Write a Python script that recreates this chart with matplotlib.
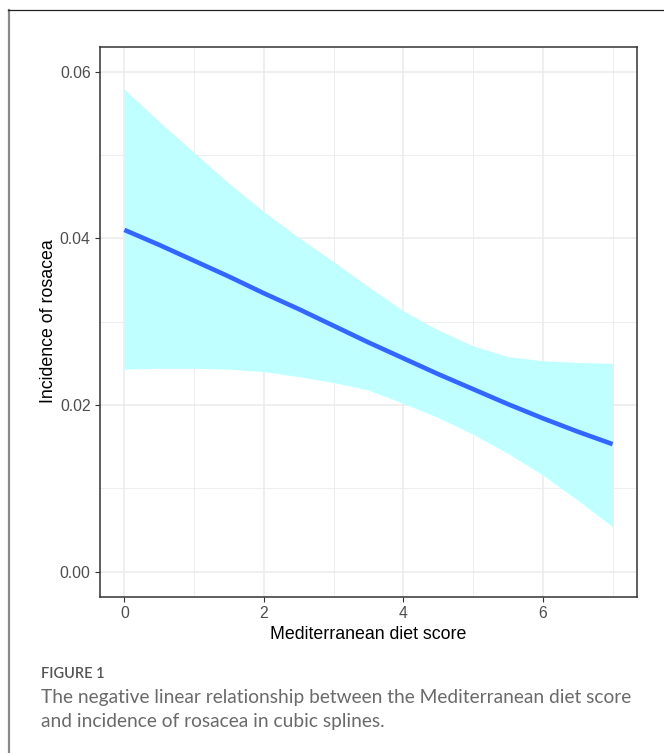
import matplotlib
matplotlib.use("Agg")
import matplotlib.pyplot as plt
from matplotlib.lines import Line2D
import numpy as np

# ---- data ----
score = [0, 0.5, 1, 1.5, 2, 2.5, 3, 3.5, 4, 4.5, 5, 5.5, 6, 6.5, 7]
fit = [0.0410, 0.0392, 0.0373, 0.0354, 0.0334, 0.0315, 0.0295, 0.0275,
       0.0256, 0.0237, 0.0219, 0.0201, 0.0184, 0.0168, 0.0153]
upper = [0.0579, 0.0540, 0.0503, 0.0466, 0.0432, 0.0401, 0.0372, 0.0342,
         0.0313, 0.0290, 0.0271, 0.0258, 0.0253, 0.0251, 0.0250]
lower = [0.0243, 0.0244, 0.0244, 0.0243, 0.0240, 0.0234, 0.0227, 0.0218,
         0.0202, 0.0185, 0.0165, 0.0142, 0.0116, 0.0086, 0.0054]
x_ticks = [0, 2, 4, 6]
x_minor = [1, 3, 5, 7]
y_ticks = [0.00, 0.02, 0.04, 0.06]
y_minor = [0.01, 0.03, 0.05]
y_tick_labels = ["0.00", "0.02", "0.04", "0.06"]
x_label = "Mediterranean diet score"
y_label = "Incidence of rosacea"
fig_label = "FIGURE 1"
caption = ["The negative linear relationship between the Mediterranean diet score",
           "and incidence of rosacea in cubic splines."]

W, H = 664, 753
DPI = 100
fig = plt.figure(figsize=(W / DPI, H / DPI), dpi=DPI)
fig.patch.set_facecolor("white")

def fx(px):
    return px / W

def fy(py):
    return 1 - py / H

# panel
left, right, top, bottom = 100, 637, 46.5, 596.7
ax = fig.add_axes([fx(left), fy(bottom), (right - left) / W, (bottom - top) / H])
ax.set_facecolor("white")
ax.set_xlim(-0.35, 7.35)
ax.set_ylim(-0.003, 0.063)

grid_c = "#EBEBEB"
for v in x_ticks:
    ax.axvline(v, color=grid_c, lw=1.1, zorder=0)
for v in x_minor:
    ax.axvline(v, color=grid_c, lw=0.6, zorder=0)
for v in y_ticks:
    ax.axhline(v, color=grid_c, lw=1.1, zorder=0)
for v in y_minor:
    ax.axhline(v, color=grid_c, lw=0.6, zorder=0)

ax.fill_between(score, lower, upper, color="#BFFFFF", lw=0, zorder=1)
ax.plot(score, fit, color="#3366FF", lw=3.3, solid_capstyle="butt", zorder=2)

ax.set_xticks(x_ticks)
ax.set_xticklabels([str(v) for v in x_ticks])
ax.set_yticks(y_ticks)
ax.set_yticklabels(y_tick_labels)
ax.tick_params(axis="both", direction="out", length=3.5, width=0.8, color="#333333",
               labelsize=11.3, labelcolor="#4D4D4D", pad=3.2)
for lab in ax.get_xticklabels() + ax.get_yticklabels():
    lab.set_family("Liberation Sans")
for s in ax.spines.values():
    s.set_color("#333333")
    s.set_linewidth(1.1)

fig.text(fx(368.5), fy(634.7), x_label, ha="center", va="center",
         fontsize=12.8, family="Liberation Sans", color="black")
fig.text(fx(48.7), fy(321.6), y_label, ha="center", va="center", rotation=90,
         fontsize=12.8, family="Liberation Sans", color="black")

# outer frame (left and top visible)
fig.add_artist(Line2D([fx(8.7), fx(8.7)], [fy(10), 0], color="#8A8A8A", lw=1.6,
                      transform=fig.transFigure))
fig.add_artist(Line2D([fx(8), 1], [fy(10.3), fy(10.3)], color="#222222", lw=0.9,
                      transform=fig.transFigure))

# caption
fig.canvas.draw()
renderer = fig.canvas.get_renderer()

def fitted_text(x, y, s, target_w, **kw):
    t = fig.text(x, y, s, **kw)
    w = t.get_window_extent(renderer).width
    t.set_fontsize(t.get_fontsize() * target_w / w)
    return t

fitted_text(fx(41), fy(674.5), fig_label, 62.7, ha="left", va="center",
            fontsize=11, family="Lato", fontweight="semibold", color="#555555")
t1 = fitted_text(fx(41), fy(697), caption[0], 591, ha="left", va="center",
                 fontsize=13, family="Lato", color="#6A6A6A")
fig.text(fx(41), fy(721), caption[1], ha="left", va="center",
         fontsize=t1.get_fontsize(), family="Lato", color="#6A6A6A")

fig.savefig("out.png", dpi=DPI)
